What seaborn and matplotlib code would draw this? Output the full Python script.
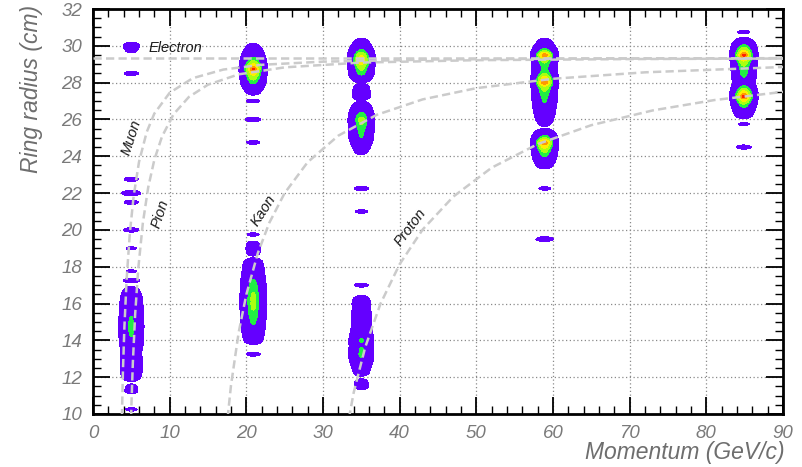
import numpy as np
import pandas as pd
import matplotlib
matplotlib.use("Agg")
import matplotlib.pyplot as plt
from matplotlib.ticker import MultipleLocator
import seaborn as sns

# ---- expected ring radius versus momentum for each particle hypothesis ----
electron_p = [0.0, 90.0]
electron_r = [29.35, 29.35]

muon_p = [3.7, 3.9, 4.1, 4.4, 4.8, 5.3, 6.0, 7.0, 8.0, 10.0, 13.0, 17.0, 22.0, 30.0, 45.0, 65.0, 90.0]
muon_r = [8.47, 12.28, 14.77, 17.41, 19.80, 21.83, 23.69, 25.31, 26.32, 27.45, 28.24, 28.71, 28.97, 29.14, 29.26, 29.31, 29.33]

pion_p = [4.8, 5.0, 5.2, 5.5, 5.9, 6.5, 7.2, 8.0, 9.0, 10.5, 12.5, 15.0, 19.0, 25.0, 35.0, 50.0, 70.0, 90.0]
pion_r = [6.56, 10.35, 12.81, 15.43, 17.88, 20.37, 22.31, 23.81, 25.07, 26.28, 27.22, 27.89, 28.45, 28.83, 29.09, 29.22, 29.28, 29.31]

kaon_p = [17.0, 17.5, 18.0, 19.0, 20.0, 21.5, 23.0, 25.0, 28.0, 32.0, 37.0, 43.0, 50.0, 60.0, 72.0, 90.0]
kaon_r = [6.75, 9.56, 11.56, 14.43, 16.49, 18.74, 20.39, 22.00, 23.68, 25.12, 26.25, 27.09, 27.70, 28.21, 28.56, 28.85]

proton_p = [32.0, 33.0, 34.0, 35.5, 37.5, 40.0, 43.0, 47.0, 52.0, 58.0, 65.0, 73.0, 81.0, 90.0]
proton_r = [5.44, 8.90, 11.16, 13.62, 15.99, 18.14, 20.02, 21.81, 23.38, 24.66, 25.69, 26.49, 27.05, 27.50]

# ---- measured ring radius distributions at each beam momentum ----
beam_momenta = [5.0, 20.9, 35.0, 58.9, 84.9]

radius_5gev = [30.0, 29.75, 28.5, 22.75, 22.0, 21.5, 20.0, 19.0, 17.75, 17.25, 16.75, 16.5, 16.25,
               16.0, 15.75, 15.5, 15.25, 15.0, 14.75, 14.5, 14.25, 14.0, 13.75, 13.5, 13.25, 13.0,
               12.75, 12.5, 12.25, 12.0, 11.5, 11.25, 10.25]
counts_5gev = [3.5, 1.5, 2.2, 2.2, 5.0, 2.2, 2.5, 1.3, 1.3, 3.0, 2.5, 6, 10,
               12, 14, 16, 19, 21, 22, 21, 19, 17, 13, 8, 7, 9,
               10, 9, 8, 5, 1.5, 2.0, 1.5]

radius_21gev = [30.0, 29.75, 29.5, 29.25, 29.0, 28.75, 28.5, 28.25, 28.0, 27.75, 27.5,
                27.0, 26.0, 24.75, 19.75, 19.25, 19.0, 18.75,
                18.25, 18.0, 17.75, 17.5, 17.25, 17.0, 16.75, 16.5, 16.25, 16.0, 15.75,
                15.5, 15.25, 15.0, 14.75, 14.5, 14.25, 14.0, 13.25]
counts_21gev = [1.5, 5, 12, 26, 52, 95, 60, 38, 22, 8, 2.5,
                1.8, 2.6, 1.8, 1.5, 1.8, 2.5, 2.0,
                5, 8, 10, 13, 20, 25, 29, 33, 35, 35, 33,
                29, 25, 21, 17, 12, 8, 5, 2]

radius_35gev = [30.25, 30.0, 29.75, 29.5, 29.25, 29.0, 28.75, 28.5, 28.25, 27.75, 27.5, 27.25,
                26.75, 26.5, 26.25, 26.0, 25.75, 25.5, 25.25, 25.0, 24.75, 24.5, 24.25,
                22.25, 21.0, 17.0, 16.25, 16.0, 15.75, 15.5, 15.25, 15.0, 14.75, 14.5,
                14.25, 14.0, 13.75, 13.5, 13.25, 13.0, 12.75, 12.5, 12.25, 11.75, 11.5]
counts_35gev = [2, 6, 20, 48, 72, 52, 34, 24, 8, 3, 4, 4.5,
                5, 12, 26, 38, 32, 24, 21, 19, 9, 4, 2,
                2.2, 1.6, 2.0, 3, 5, 4, 6, 5, 7, 6, 9,
                14, 21, 17, 20, 21, 18, 9, 5, 3, 2, 2.5]

radius_59gev = [30.25, 30.0, 29.75, 29.5, 29.25, 29.0, 28.75, 28.5, 28.25, 28.0, 27.75, 27.5,
                27.25, 27.0, 26.75, 26.5, 26.25, 26.0, 25.75, 25.25, 25.0, 24.75, 24.5,
                24.25, 24.0, 23.75, 23.5, 22.25, 19.5]
counts_59gev = [2, 6, 25, 92, 45, 26, 22, 28, 62, 92, 40, 30,
                23, 20, 16, 10, 7, 4, 1.5, 8, 30, 92, 58,
                32, 19, 9, 3, 1.5, 3.5]

radius_85gev = [30.75, 30.25, 30.0, 29.75, 29.5, 29.25, 29.0, 28.75, 28.5, 28.25, 28.0,
                27.75, 27.5, 27.25, 27.0, 26.75, 26.5, 26.25, 25.75, 24.5]
counts_85gev = [1.6, 4, 22, 50, 98, 58, 34, 27, 23, 18, 7,
                23, 58, 98, 50, 23, 10, 4, 1.3, 2.2]

# spread of each momentum column across the momentum axis (offset GeV/c, relative weight)
spread_offset = [0.0, 0.1, 0.2, 0.3, 0.4, 0.5, 0.6, 0.7, 0.8, 0.9, 1.0, 1.1,
                 1.2, 1.3, 1.4, 1.5, 1.6, 1.7, 1.8, 1.9, 2.0, 2.1, 2.2]
spread_weight = [1.0, 0.987, 0.948, 0.887, 0.809, 0.718, 0.622, 0.525, 0.434, 0.350, 0.276, 0.2135,
                 0.1617, 0.1201, 0.0871, 0.0614, 0.0414, 0.0260, 0.0145, 0.0067, 0.0024, 0.0006, 0.0]

contour_levels = [0.7, 18, 30, 50, 70, 85, 1e6]
contour_colors = ["#6400ff", "#22ee44", "#aaff11", "#ffee00", "#ff9900", "#ff2200"]

curve_labels = ["Electron", "Muon", "Pion", "Kaon", "Proton"]
label_p = [7.2, 4.96, 8.74, 22.3, 41.35]
label_r = [29.88, 25.05, 20.86, 21.03, 20.16]
label_rot = [0, 72, 72, 57, 53]

# ---- build the 2D histogram from the radius distributions ----
r_fine = np.arange(10.0, 32.001, 0.025)
p_grid = np.linspace(0, 90, 1801)

hist = np.zeros((len(r_fine), len(p_grid)))
columns = [(radius_5gev, counts_5gev), (radius_21gev, counts_21gev), (radius_35gev, counts_35gev),
           (radius_59gev, counts_59gev), (radius_85gev, counts_85gev)]
for p0, (radii, counts) in zip(beam_momenta, columns):
    radii = np.array(radii)
    counts = np.array(counts, dtype=float)
    # lone bins render as thin streaks, filled runs of bins as a smooth band
    gaps = np.abs(radii[:, None] - radii[None, :])
    np.fill_diagonal(gaps, 99.0)
    lone = gaps.min(axis=1) > 0.26
    sigma = np.where(lone, 0.075, 0.12)
    amp = np.where(lone, 1.0, 0.81)
    bumps = amp * np.exp(-0.5 * ((r_fine[:, None] - radii[None, :]) / sigma) ** 2)
    profile = bumps @ counts
    spread = np.interp(np.abs(p_grid - p0), spread_offset, spread_weight, right=0.0)
    hist += np.outer(profile, spread)

curves = pd.concat([
    pd.DataFrame({"momentum": electron_p, "radius": electron_r, "particle": "Electron"}),
    pd.DataFrame({"momentum": muon_p, "radius": muon_r, "particle": "Muon"}),
    pd.DataFrame({"momentum": pion_p, "radius": pion_r, "particle": "Pion"}),
    pd.DataFrame({"momentum": kaon_p, "radius": kaon_r, "particle": "Kaon"}),
    pd.DataFrame({"momentum": proton_p, "radius": proton_r, "particle": "Proton"}),
], ignore_index=True)

# ---- figure ----
sns.set_theme(style="ticks")
plt.rcParams["font.family"] = ["Liberation Sans", "DejaVu Sans"]
plt.rcParams["font.style"] = "italic"

fig = plt.figure(figsize=(8.02, 4.67), dpi=100)
fig.patch.set_facecolor("white")
ax = fig.add_axes([93 / 802, 1 - 414 / 467, 690 / 802, 405 / 467])
ax.set_facecolor("white")

ax.contourf(p_grid, r_fine, hist, levels=contour_levels, colors=contour_colors, zorder=2)

for name in curve_labels:
    sub = curves[curves["particle"] == name]
    sns.lineplot(data=sub, x="momentum", y="radius", ax=ax, estimator=None, sort=False,
                 color="#cbcbcb", linewidth=1.8, linestyle=(0, (3.3, 1.7)), zorder=3,
                 legend=False)

for txt, px, pr, rot in zip(curve_labels, label_p, label_r, label_rot):
    ax.text(px, pr, txt, fontsize=10.5, color="#1a1a1a", rotation=rot,
            ha="left" if rot == 0 else "center", va="center", zorder=4,
            rotation_mode="anchor")

ax.set_xlim(0, 90)
ax.set_ylim(10, 32)
ax.xaxis.set_major_locator(MultipleLocator(10))
ax.xaxis.set_minor_locator(MultipleLocator(2))
ax.yaxis.set_major_locator(MultipleLocator(2))
ax.yaxis.set_minor_locator(MultipleLocator(0.5))

ax.set_axisbelow(True)
ax.grid(True, which="major", color="#8a8a8a", linestyle=(0, (1, 2)), linewidth=0.9)

ax.tick_params(which="both", direction="in", top=True, right=True, color="black",
               labelsize=13.5, labelcolor="#7a7a7a", pad=8)
ax.tick_params(which="major", length=12, width=1.3)
ax.tick_params(which="minor", length=6, width=1.0)
for sp in ax.spines.values():
    sp.set_linewidth(2.0)
    sp.set_color("black")

ax.set_xlabel("Momentum (GeV/c)", loc="right", fontsize=16.5, color="#6e6e6e")
ax.xaxis.set_label_coords(1.003, -0.066)
ax.set_ylabel("Ring radius (cm)", loc="top", fontsize=16.5, color="#6e6e6e")
ax.yaxis.set_label_coords(-0.072, 1.01)

fig.savefig("out.png", dpi=100, facecolor="white")
